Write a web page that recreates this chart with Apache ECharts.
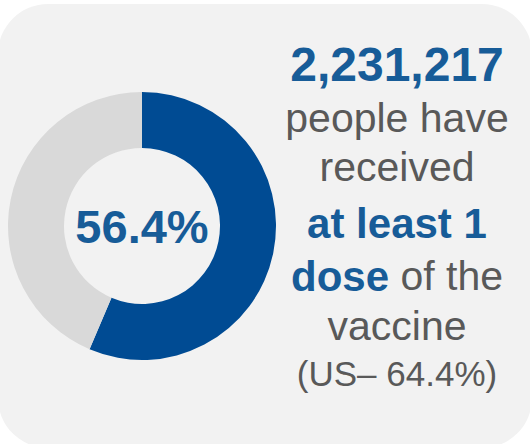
<!DOCTYPE html>
<html>
<head>
<meta charset="utf-8">
<script src="https://cdn.jsdelivr.net/npm/echarts@6/dist/echarts.min.js"></script>
<style>
  html, body { margin: 0; padding: 0; background: #ffffff; }
  #chart { width: 530px; height: 444px; }
</style>
</head>
<body>
<div id="chart"></div>
<script>
// Share of population with at least one vaccine dose
const sliceNames = ['Received at least 1 dose', 'Not yet vaccinated'];
const sliceValues = [56.4, 43.6];
const sliceColors = ['#004b93', '#d9d9d9'];
const peopleCount = '2,231,217';
const usShare = '64.4%';

const FONT = '"Liberation Sans", Arial, sans-serif';
const BLUE_TEXT = '#175c98';
const GRAY_TEXT = '#595959';

const chart = echarts.init(document.getElementById('chart'), null, { renderer: 'svg' });

const textX = 397;
const lineY = [88, 140, 189, 245, 298, 348, 392];

function line(y, text) {
  return {
    type: 'text',
    x: textX,
    y: y,
    style: {
      text: text,
      rich: richStyles,
      align: 'center',
      verticalAlign: 'bottom'
    },
    z: 10
  };
}

// graphic text uses zrender styles, so colours go in `fill`
const richStyles = {
  big: { fontFamily: FONT, fontWeight: 'bold', fontSize: 48, fill: BLUE_TEXT, lineHeight: 48 },
  b: { fontFamily: FONT, fontWeight: 'bold', fontSize: 42, fill: BLUE_TEXT, lineHeight: 44 },
  r: { fontFamily: FONT, fontWeight: 'normal', fontSize: 41, fill: GRAY_TEXT, lineHeight: 44 },
  s: { fontFamily: FONT, fontWeight: 'normal', fontSize: 35, fill: GRAY_TEXT, lineHeight: 38 }
};

const option = {
  backgroundColor: '#ffffff',
  animation: false,
  graphic: [
    {
      type: 'rect',
      shape: { x: -2, y: 4, width: 534, height: 444, r: 50 },
      style: { fill: '#f2f2f2' },
      z: 0
    },
    line(lineY[0], '{big|' + peopleCount + '}'),
    line(lineY[1], '{r|people have}'),
    line(lineY[2], '{r|received}'),
    line(lineY[3], '{b|at least 1}'),
    line(lineY[4], '{b|dose}{r| of the}'),
    line(lineY[5], '{r|vaccine}'),
    line(lineY[6], '{s|(US\u2013 ' + usShare + ')}')
  ],
  series: [
    {
      type: 'pie',
      center: [142, 226],
      radius: [78, 134],
      startAngle: 90,
      clockwise: true,
      silent: true,
      z: 5,
      label: {
        show: true,
        position: 'center',
        formatter: function () { return sliceValues[0] + '%'; },
        fontFamily: FONT,
        fontWeight: 'bold',
        fontSize: 47,
        color: BLUE_TEXT
      },
      labelLine: { show: false },
      emphasis: { disabled: true },
      data: sliceNames.map((n, i) => ({
        name: n,
        value: sliceValues[i],
        itemStyle: { color: sliceColors[i] },
        label: { show: i === 0 }
      }))
    }
  ]
};

chart.setOption(option);
</script>
</body>
</html>
